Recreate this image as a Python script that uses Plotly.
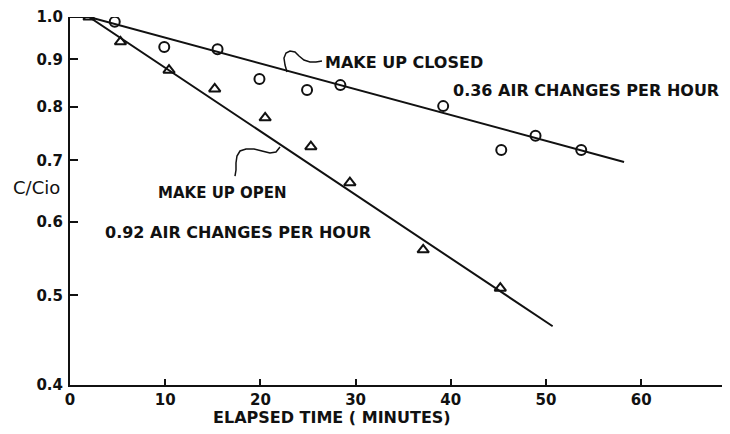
import plotly.graph_objects as go

# ---- data ----
closed_t = [4.7, 9.9, 15.5, 19.9, 24.9, 28.4, 39.2, 45.3, 48.9, 53.7]
closed_c = [0.988, 0.928, 0.923, 0.857, 0.834, 0.844, 0.801, 0.718, 0.744, 0.718]

open_t = [2.0, 5.3, 10.4, 15.2, 20.5, 25.3, 29.4, 37.1, 45.2]
open_c = [1.0, 0.940, 0.876, 0.836, 0.778, 0.724, 0.662, 0.560, 0.509]

closed_fit_t = [0.0, 2.0, 58.2]
closed_fit_c = [1.0, 1.0, 0.697]
open_fit_t = [0.0, 2.0, 50.7]
open_fit_c = [1.0, 1.0, 0.463]

x_ticks = [0, 10, 20, 30, 40, 50, 60]
y_ticks = [0.4, 0.5, 0.6, 0.7, 0.8, 0.9, 1.0]
y_tick_text = ["0.4", "0.5", "0.6", "0.7", "0.8", "0.9", "1.0"]

# page body has an 8px margin; compensate so the plot area lands where the reference has it
OFF = 8
W, H = 730 - OFF, 434 - 2 * OFF
ML, MR, MT, MB = 70 - OFF, 0, 17 - OFF, 41
PW, PH = W - ML - MR, H - MT - MB


def px(X):
    # X is a screen pixel position of the reference
    return (X - OFF - ML) / PW


def py(Y):
    return (H + OFF - MB - Y) / PH


INK = "#111111"
FONT = "DejaVu Sans"

fig = go.Figure()
fig.add_trace(go.Scatter(x=closed_fit_t, y=closed_fit_c, mode="lines",
                         line=dict(color=INK, width=2), hoverinfo="skip"))
fig.add_trace(go.Scatter(x=open_fit_t, y=open_fit_c, mode="lines",
                         line=dict(color=INK, width=2), hoverinfo="skip"))
fig.add_trace(go.Scatter(x=closed_t, y=closed_c, mode="markers",
                         marker=dict(symbol="circle-open", size=10, color=INK,
                                     line=dict(width=2, color=INK))))
fig.add_trace(go.Scatter(x=open_t, y=open_c, mode="markers",
                         marker=dict(symbol="triangle-up-open", size=10, color=INK,
                                     line=dict(width=2, color=INK))))


def path_from(points):
    s = "M {:.4f} {:.4f}".format(px(points[0][0]), py(points[0][1]))
    for (a, b) in points[1:]:
        s += " L {:.4f} {:.4f}".format(px(a), py(b))
    return s


# leader squiggles
sq1 = [(287, 72), (285, 65), (284, 58), (286, 53), (290, 51), (295, 52),
       (299, 56), (304, 60), (310, 62), (316, 62), (322, 61)]
sq2 = [(280, 147), (276, 152), (270, 153), (262, 151), (254, 149), (246, 149),
       (240, 151), (237, 156), (236, 163), (236, 170), (235, 176)]
for sq in (sq1, sq2):
    fig.add_shape(type="path", path=path_from(sq), xref="paper", yref="paper",
                  line=dict(color=INK, width=1.5))

labels = [
    ("MAKE UP CLOSED", 323, 62, "left", 16, "bold"),
    ("0.36 AIR CHANGES PER HOUR", 451, 90, "left", 16, "bold"),
    ("MAKE UP OPEN", 156, 193, "left", 15, "bold"),
    ("0.92 AIR CHANGES PER HOUR", 103, 232, "left", 16, "bold"),
    ("C/Cio", 36, 187, "center", 18, "normal"),
    ("ELAPSED TIME ( MINUTES)", 332, 417, "center", 16, "bold"),
]
for txt, X, Y, anc, sz, wt in labels:
    fig.add_annotation(text=txt, x=px(X), y=py(Y), xref="paper", yref="paper",
                       xanchor=anc, yanchor="middle", showarrow=False,
                       font=dict(family=FONT, size=sz, color=INK, weight=wt))

tickfont = dict(family=FONT, size=15, color=INK, weight="bold")
fig.update_xaxes(range=[0, (730 - 70) / 9.52], tickvals=x_ticks,
                 ticks="inside", ticklen=6, tickwidth=2, tickcolor=INK,
                 showline=True, linecolor=INK, linewidth=2, showgrid=False,
                 zeroline=False, tickfont=tickfont)
fig.update_yaxes(type="log", range=[-0.39794, 0.0], tickvals=y_ticks,
                 ticktext=y_tick_text, ticks="inside", ticklen=8, tickwidth=2,
                 tickcolor=INK, showline=True, linecolor=INK, linewidth=2,
                 showgrid=False, zeroline=False, tickfont=tickfont,
                 ticklabelstandoff=2)

fig.update_layout(width=W, height=H, margin=dict(l=ML, r=MR, t=MT, b=MB),
                  paper_bgcolor="white", plot_bgcolor="white",
                  showlegend=False)

fig.write_html("out.html")
